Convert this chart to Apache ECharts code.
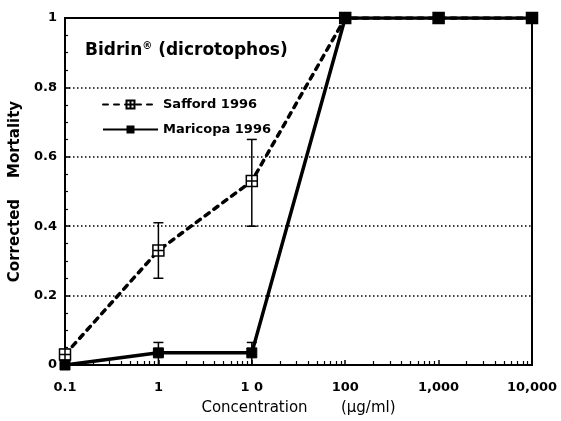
<!DOCTYPE html>
<html>
<head>
<meta charset="utf-8">
<title>Bidrin</title>
<script src="https://cdn.jsdelivr.net/npm/echarts@6/dist/echarts.min.js"></script>
<style>
    body { margin: 0; background: #fff; }
    #chart { width: 561px; height: 421px; }
</style>
</head>
<body>
<div id="chart"></div>
<script>
    // 数据
    var concentrations = [0.1, 1, 10, 100, 1000, 10000];
    var saffordMean = [0.03, 0.33, 0.53, 1, 1, 1];
    var saffordLow  = [0.015, 0.25, 0.40, 1, 1, 1];
    var saffordHigh = [0.045, 0.41, 0.65, 1, 1, 1];
    var maricopaMean = [0, 0.035, 0.035, 1, 1, 1];
    var maricopaLow  = [0, 0, 0, 1, 1, 1];
    var maricopaHigh = [0, 0.065, 0.065, 1, 1, 1];
    var xTickLabels = ['0.1', '1', '1 0', '100', '1,000', '10,000'];
    var minorTicks = [];
    [0.1, 1, 10, 100, 1000].forEach(function (d) {
        for (var k = 2; k <= 9; k++) minorTicks.push(Math.log10(k * d));
    });

    var font = 'DejaVu Sans';

    function points(vals) {
        return concentrations.map(function (c, i) { return [Math.log10(c), vals[i]]; });
    }

    // 误差线
    function errorBars(low, high) {
        return {
            type: 'custom',
            silent: true,
            z: 3,
            data: concentrations.map(function (c, i) { return [Math.log10(c), low[i], high[i]]; }),
            renderItem: function (params, api) {
                var x = api.value(0), lo = api.value(1), hi = api.value(2);
                if (hi - lo < 0.001) return;
                var t = api.coord([x, hi]), b = api.coord([x, lo]);
                var w = 5, st = { stroke: '#000', lineWidth: 1.5 };
                return {
                    type: 'group',
                    children: [
                        { type: 'line', shape: { x1: t[0], y1: t[1], x2: b[0], y2: b[1] }, style: st },
                        { type: 'line', shape: { x1: t[0] - w, y1: t[1], x2: t[0] + w, y2: t[1] }, style: st },
                        { type: 'line', shape: { x1: b[0] - w, y1: b[1], x2: b[0] + w, y2: b[1] }, style: st }
                    ]
                };
            }
        };
    }

    var chart = echarts.init(document.getElementById('chart'));
    chart.setOption({
        animation: false,
        backgroundColor: '#fff',
        title: {
            text: 'Bidrin{sup|®} (dicrotophos)',
            left: 80, top: 36,
            textStyle: {
                fontFamily: font, fontWeight: 'bold', fontSize: 17, color: '#000',
                rich: { sup: { fontFamily: font, fontWeight: 'bold', fontSize: 10, verticalAlign: 'top', padding: [0, 0, 10, 0] } }
            }
        },
        legend: {
            orient: 'vertical',
            left: 97, top: 93,
            itemWidth: 55, itemHeight: 10, itemGap: 12,
            textStyle: { fontFamily: font, fontWeight: 'bold', fontSize: 13, color: '#000' },
            data: ['Safford 1996', 'Maricopa 1996']
        },
        grid: {
            left: 63, right: 29, top: 18, bottom: 51,
            show: true, borderColor: '#000', borderWidth: 2
        },
        xAxis: [{
            type: 'value',
            min: -1, max: 4, interval: 1,
            name: 'Concentration       (\u00b5g/ml)',
            nameLocation: 'middle', nameGap: 36,
            nameTextStyle: { fontFamily: font, fontSize: 15, color: '#000' },
            axisLine: { onZero: false, lineStyle: { color: '#000', width: 2 } },
            axisTick: { inside: true, length: 5, lineStyle: { color: '#000', width: 1.5 } },
            axisLabel: {
                margin: 16,
                fontFamily: font, fontWeight: 'bold', fontSize: 13, color: '#000',
                formatter: function (v) { return xTickLabels[Math.round(v) + 1]; }
            },
            splitLine: { show: false }
        }, {
            type: 'value',
            position: 'bottom',
            min: -1, max: 4,
            axisLine: { show: false, onZero: false },
            axisLabel: { show: false },
            axisTick: { show: true, inside: true, length: 4, customValues: minorTicks, lineStyle: { color: '#000', width: 1.2 } },
            splitLine: { show: false }
        }],
        yAxis: {
            type: 'value',
            min: 0, max: 1, interval: 0.2,
            name: 'Corrected    Mortality',
            nameLocation: 'middle', nameGap: 42,
            nameTextStyle: { fontFamily: font, fontWeight: 'bold', fontSize: 15, color: '#000' },
            axisLine: { show: true, onZero: false, lineStyle: { color: '#000', width: 2 } },
            axisTick: { show: true, inside: true, length: 5, lineStyle: { color: '#000', width: 1.5 } },
            minorTick: { show: true, splitNumber: 4, length: 3, lineStyle: { color: '#000', width: 1.2 } },
            axisLabel: { fontFamily: font, fontWeight: 'bold', fontSize: 13, color: '#000', margin: 8 },
            splitLine: { show: true, lineStyle: { color: '#000', width: 1.5, type: [1.5, 2.5] } }
        },
        series: [
            errorBars(saffordLow, saffordHigh),
            errorBars(maricopaLow, maricopaHigh),
            {
                name: 'Safford 1996',
                type: 'line',
                z: 4,
                data: points(saffordMean),
                symbol: 'path://M0,0H10V10H0Z M0,5H10 M5,0V10',
                symbolSize: 11,
                itemStyle: { color: '#fff', borderColor: '#000', borderWidth: 1.5 },
                lineStyle: { color: '#000', width: 3.5, type: [5, 6], cap: 'round' }
            },
            {
                name: 'Maricopa 1996',
                type: 'line',
                z: 5,
                data: points(maricopaMean),
                symbol: 'rect',
                symbolSize: 10,
                itemStyle: { color: '#000', borderColor: '#000' },
                lineStyle: { color: '#000', width: 3.5 }
            }
        ]
    });
</script>
</body>
</html>
